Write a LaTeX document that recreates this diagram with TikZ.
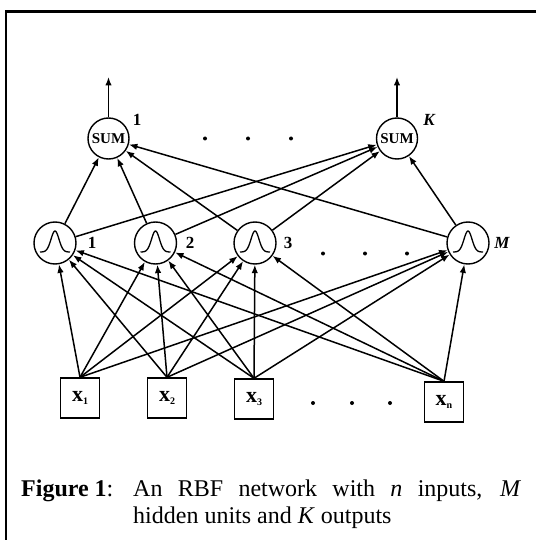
\documentclass[tikz,border=0pt]{standalone}
\usepackage{fontspec}
\setmainfont{Liberation Serif}
\usetikzlibrary{arrows.meta}
\begin{document}
\begin{tikzpicture}[x=1pt,y=-1pt,
  conn/.style={line width=1.5pt,-{Latex[length=8.5pt,width=6.5pt]}},
  sumnode/.style={circle,draw,line width=1.4pt,minimum size=41pt,inner sep=0pt,font=\fontsize{15}{15}\selectfont\bfseries},
  rbf/.style={circle,draw,line width=1.4pt,minimum size=42pt,inner sep=0pt},
  inbox/.style={draw,line width=1.4pt,minimum width=39pt,minimum height=40pt,inner sep=0pt,font=\fontsize{22}{22}\selectfont\bfseries},
  lab/.style={font=\fontsize{17}{17}\selectfont\bfseries},
  dotnode/.style={circle,fill,inner sep=0pt,minimum size=4pt},
  captxt/.style={font=\fontsize{24}{27}\selectfont,inner sep=0pt,anchor=base west},
  frame/.style={line width=2.5pt}
]
\useasboundingbox (0,0) rectangle (536,540);
% frame (top and left only)
\coordinate (fTR) at (536,11.5);
\coordinate (fTL) at (6,11.5);
\coordinate (fBL) at (6,540);
\draw[frame] (fTR) -- (fTL) -- (fBL);

% output layer
\node[sumnode] (s1) at (108.5,138.5) {SUM};
\node[sumnode] (sK) at (397,138.5) {SUM};
\node[lab] (ls1) at (137,120) {1};
\node[lab] (lsK) at (429,120) {\itshape K};
\coordinate (o1) at (108.5,77);
\coordinate (oK) at (397,77);
\draw[conn] (s1.north) -- (o1);
\draw[conn] (sK.north) -- (oK);
\node[dotnode] (d1) at (205,138.5) {};
\node[dotnode] (d2) at (248,138.5) {};
\node[dotnode] (d3) at (291,138.5) {};

% hidden layer
\node[rbf] (h1) at (55,243) {};
\node[rbf] (h2) at (155.5,243) {};
\node[rbf] (h3) at (255,243) {};
\node[rbf] (hM) at (468,243) {};
\foreach \h in {h1,h2,h3,hM}{
  \begin{scope}[shift={(\h.center)}]
    \draw[line width=1.3pt] plot[domain=-15:15,samples=50,smooth] (\x,{9-21*exp(-(\x*\x)/32)});
  \end{scope}
}
\node[lab] (lh1) at (92,243) {1};
\node[lab] (lh2) at (190,243) {2};
\node[lab] (lh3) at (288,243) {3};
\node[lab] (lhM) at (502,243) {\itshape M};
\node[dotnode] (e1) at (323,253.5) {};
\node[dotnode] (e2) at (365,253.5) {};
\node[dotnode] (e3) at (407,253.5) {};

% input layer
\node[inbox] (x1) at (80,398) {x\raisebox{-3pt}{\fontsize{10}{10}\selectfont 1}};
\node[inbox] (x2) at (167,398) {x\raisebox{-3pt}{\fontsize{10}{10}\selectfont 2}};
\node[inbox] (x3) at (254,399) {x\raisebox{-3pt}{\fontsize{10}{10}\selectfont 3}};
\node[inbox] (xn) at (444,402) {x\raisebox{-3pt}{\fontsize{10}{10}\selectfont n}};
\node[dotnode] (f1) at (313,403) {};
\node[dotnode] (f2) at (352,403) {};
\node[dotnode] (f3) at (390,403) {};

% connections
\foreach \h in {h1,h2,h3,hM}{
  \foreach \s in {s1,sK}{
    \draw[conn] (\h) -- (\s);
  }
}
\foreach \i in {x1,x2,x3,xn}{
  \foreach \h in {h1,h2,h3,hM}{
    \draw[conn] (\i.north) -- (\h);
  }
}

% caption
\node[captxt] (fig) at (21,496) {\textbf{Figure 1}:};
\node[captxt] (cap1) at (133,496) {\makebox[388pt][s]{An RBF network with \textit{n} inputs, \textit{M}}};
\node[captxt] (cap2) at (133,523) {hidden units and \textit{K} outputs};
\end{tikzpicture}
\end{document}
